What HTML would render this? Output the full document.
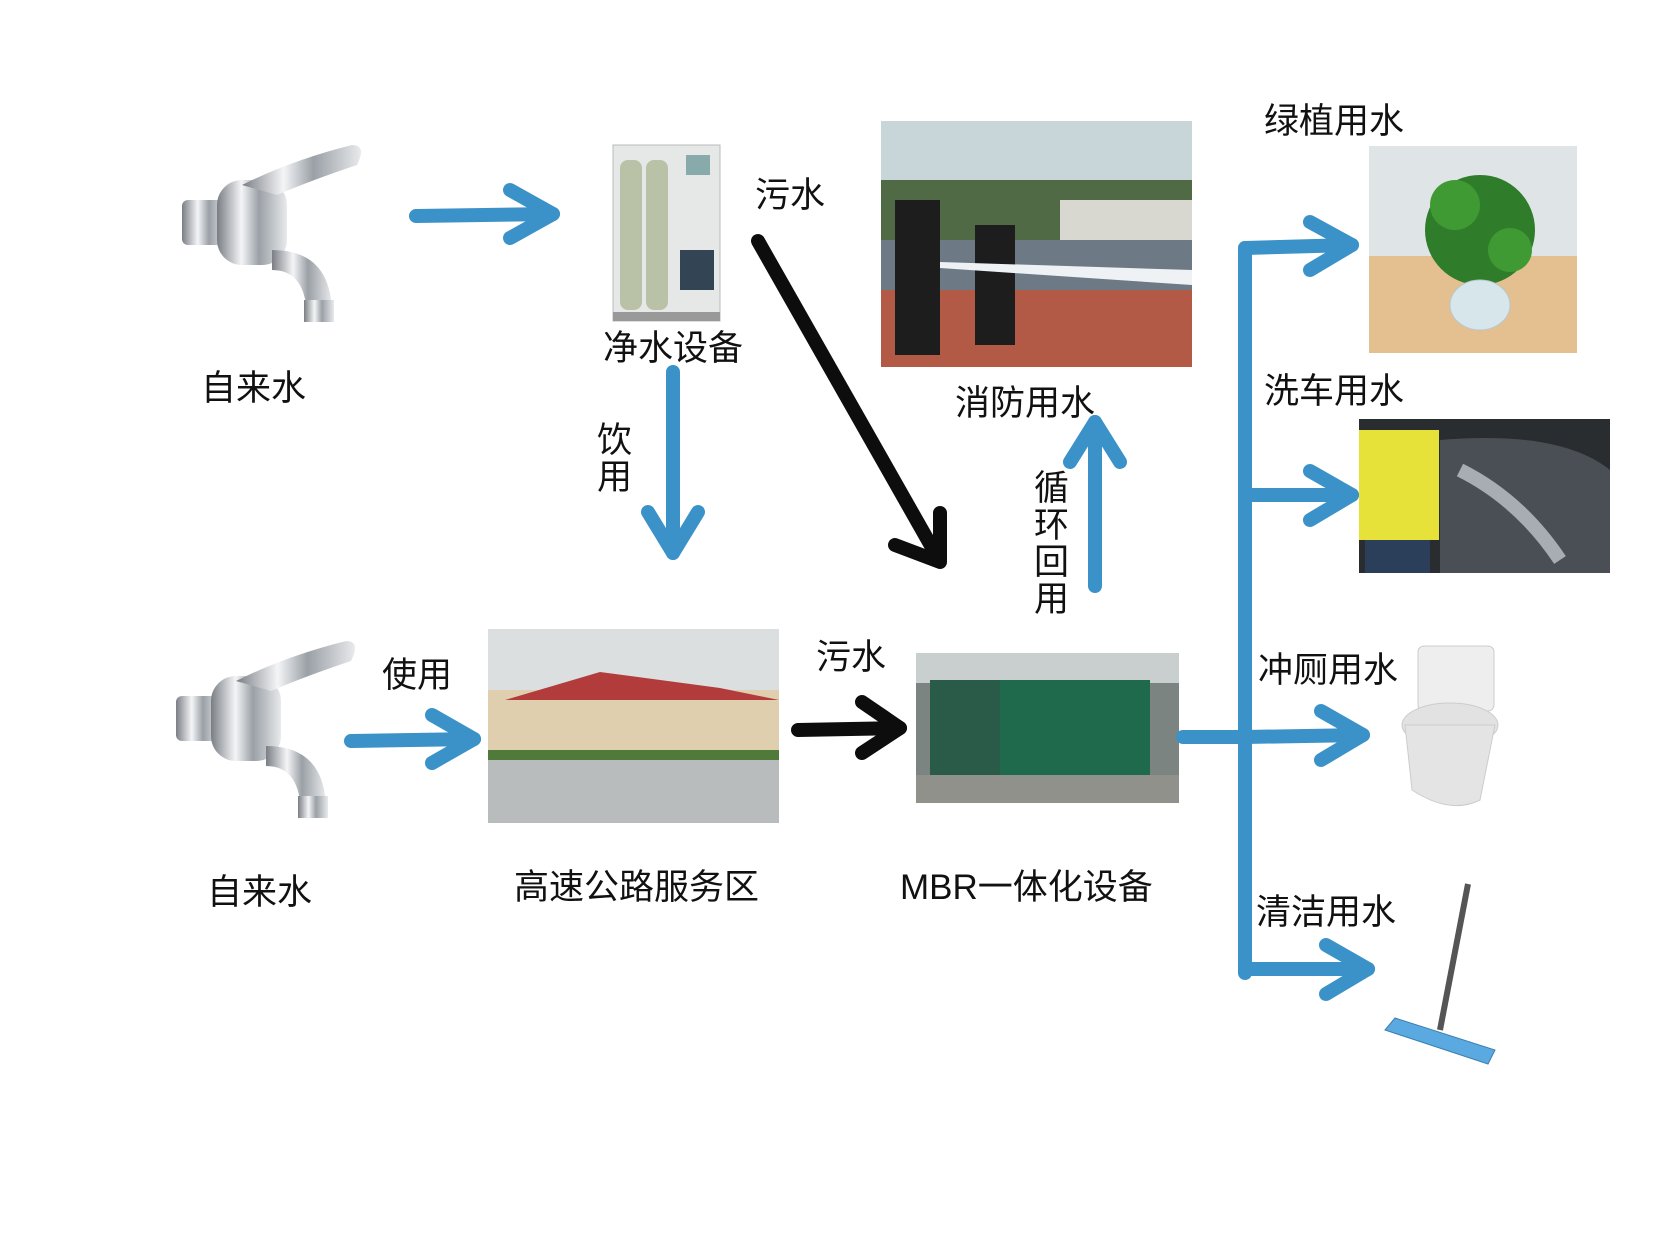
<!DOCTYPE html>
<html><head><meta charset="utf-8"><style>
html,body{margin:0;padding:0;background:#fff;}
svg{display:block;}
text{font-family:"Liberation Sans","Noto Sans CJK SC",sans-serif;font-size:35px;fill:#111;}
</style></head><body>
<svg width="1671" height="1247" viewBox="0 0 1671 1247" xmlns="http://www.w3.org/2000/svg">
<defs>
<linearGradient id="chrome" x1="0" x2="1">
<stop offset="0" stop-color="#7a7e84"/><stop offset="0.35" stop-color="#f4f5f7"/><stop offset="0.6" stop-color="#9aa0a6"/><stop offset="1" stop-color="#e8eaec"/>
</linearGradient>
<g id="faucet">
<rect x="0" y="60" width="45" height="45" rx="6" fill="url(#chrome)"/>
<rect x="35" y="40" width="70" height="85" rx="25" fill="url(#chrome)"/>
<path d="M60 45 Q110 20 170 5 Q185 5 175 25 Q130 40 95 55 Z" fill="url(#chrome)"/>
<path d="M90 110 Q150 110 150 175 L125 180 Q125 130 90 130 Z" fill="url(#chrome)"/>
<rect x="122" y="160" width="30" height="22" fill="url(#chrome)"/>
</g>
</defs>

<!-- Faucets -->
<use href="#faucet" x="182" y="140"/>
<use href="#faucet" x="176" y="636"/>

<!-- Purifier -->
<g>
<rect x="613" y="145" width="107" height="176" fill="#e6e8e8" stroke="#bbb"/>
<rect x="620" y="160" width="22" height="150" rx="8" fill="#b9c2a6"/>
<rect x="646" y="160" width="22" height="150" rx="8" fill="#b9c2a6"/>
<rect x="686" y="155" width="24" height="20" fill="#8aa"/>
<rect x="680" y="250" width="34" height="40" fill="#345"/>
<rect x="613" y="312" width="107" height="9" fill="#999"/>
</g>

<!-- Fire image -->
<g>
<rect x="881" y="121" width="311" height="246" fill="#c9d6d9"/>
<rect x="881" y="180" width="311" height="70" fill="#4f6a44"/>
<rect x="1060" y="200" width="132" height="40" fill="#d8d8d0"/>
<rect x="881" y="240" width="311" height="60" fill="#6d7a86"/>
<rect x="881" y="290" width="311" height="77" fill="#b25a45"/>
<rect x="895" y="200" width="45" height="155" fill="#1d1d1d"/>
<rect x="975" y="225" width="40" height="120" fill="#1d1d1d"/>
<path d="M940 262 L1192 270 L1192 285 L940 268 Z" fill="#eef2f5"/>
</g>

<!-- Plant -->
<g>
<rect x="1369" y="146" width="208" height="207" fill="#e4bf8f"/>
<rect x="1369" y="146" width="208" height="110" fill="#dfe4e6"/>
<circle cx="1480" cy="230" r="55" fill="#2f7d2a"/>
<circle cx="1455" cy="205" r="25" fill="#3f9a33"/>
<circle cx="1510" cy="250" r="22" fill="#3f9a33"/>
<ellipse cx="1480" cy="305" rx="30" ry="25" fill="#d6e6ea" stroke="#b8c8cc"/>
</g>

<!-- Car wash -->
<g>
<rect x="1359" y="419" width="251" height="154" fill="#2a2d30"/>
<path d="M1440 440 Q1560 430 1610 470 L1610 573 L1440 573 Z" fill="#4a4f55"/>
<path d="M1460 470 Q1520 500 1560 560" stroke="#cfd6dc" stroke-width="14" fill="none" opacity="0.7"/>
<rect x="1359" y="430" width="80" height="110" fill="#e6e23a"/>
<rect x="1365" y="540" width="65" height="33" fill="#2b3e5a"/>
</g>

<!-- Toilet -->
<g>
<rect x="1418" y="646" width="76" height="65" rx="6" fill="#eeeeee" stroke="#ccc"/>
<ellipse cx="1450" cy="725" rx="48" ry="22" fill="#e2e2e2" stroke="#ccc"/>
<path d="M1405 725 L1412 790 Q1450 815 1480 800 L1495 725 Z" fill="#e4e4e4" stroke="#ccc"/>
</g>

<!-- Mop -->
<g>
<line x1="1468" y1="884" x2="1440" y2="1030" stroke="#555" stroke-width="6"/>
<path d="M1385 1030 L1395 1018 L1495 1050 L1488 1064 Z" fill="#5aa9e0" stroke="#3a7fb0"/>
</g>

<!-- Service area -->
<g>
<rect x="488" y="629" width="291" height="194" fill="#dcdfe0"/>
<rect x="488" y="690" width="291" height="65" fill="#e0cfae"/>
<path d="M505 700 L600 672 L720 688 L779 700 Z" fill="#b23b3b"/>
<rect x="488" y="750" width="291" height="10" fill="#4f7a3a"/>
<rect x="488" y="760" width="291" height="63" fill="#b9bcbc"/>
</g>

<!-- MBR -->
<g>
<rect x="916" y="653" width="263" height="150" fill="#7b8480"/>
<rect x="916" y="653" width="263" height="30" fill="#c9cfcf"/>
<rect x="1000" y="680" width="150" height="95" fill="#1f6a4c"/>
<rect x="930" y="680" width="70" height="95" fill="#2a5a48"/>
<rect x="916" y="775" width="263" height="28" fill="#8f918a"/>
</g>

<!-- Blue arrows -->
<g stroke="#3b92c8" stroke-width="14" fill="none" stroke-linecap="round" stroke-linejoin="round">
<line x1="416" y1="216" x2="553" y2="214"/><polyline points="510,190 553,214 510,238"/>
<line x1="673" y1="372" x2="673" y2="553"/><polyline points="648,512 673,553 698,512"/>
<line x1="1095" y1="586" x2="1095" y2="422"/><polyline points="1070,462 1095,422 1120,462"/>
<line x1="351" y1="741" x2="474" y2="739"/><polyline points="432,715 474,739 432,763"/>
<line x1="1245" y1="248" x2="1245" y2="973"/>
<line x1="1183" y1="737" x2="1245" y2="737"/>
<line x1="1245" y1="248" x2="1352" y2="245"/><polyline points="1310,222 1352,245 1310,270"/>
<line x1="1245" y1="495" x2="1352" y2="495"/><polyline points="1310,471 1352,495 1310,520"/>
<line x1="1245" y1="737" x2="1363" y2="735"/><polyline points="1321,711 1363,735 1321,760"/>
<line x1="1245" y1="969" x2="1368" y2="969"/><polyline points="1326,945 1368,969 1326,994"/>
</g>

<!-- Black arrows -->
<g stroke="#0d0d0d" stroke-width="14" fill="none" stroke-linecap="round" stroke-linejoin="round">
<line x1="758" y1="241" x2="938" y2="558"/><polyline points="940,513 940,562 895,545"/>
<line x1="798" y1="730" x2="900" y2="728"/><polyline points="862,702 900,728 862,753"/>
</g>

<!-- Labels -->
<text x="201" y="400">自来水</text>
<text x="603" y="360">净水设备</text>
<text x="755" y="207">污水</text>
<text x="955" y="415">消防用水</text>
<text x="1264" y="133">绿植用水</text>
<text x="1264" y="403">洗车用水</text>
<text x="1258" y="682">冲厕用水</text>
<text x="1256" y="924">清洁用水</text>
<text x="382" y="687">使用</text>
<text x="207" y="904">自来水</text>
<text x="514" y="899">高速公路服务区</text>
<text x="816" y="669">污水</text>
<text x="900" y="899">MBR一体化设备</text>
<text x="597" y="452">饮</text>
<text x="597" y="489">用</text>
<text x="1034" y="500">循</text>
<text x="1034" y="537">环</text>
<text x="1034" y="574">回</text>
<text x="1034" y="611">用</text>
</svg>
</body></html>
